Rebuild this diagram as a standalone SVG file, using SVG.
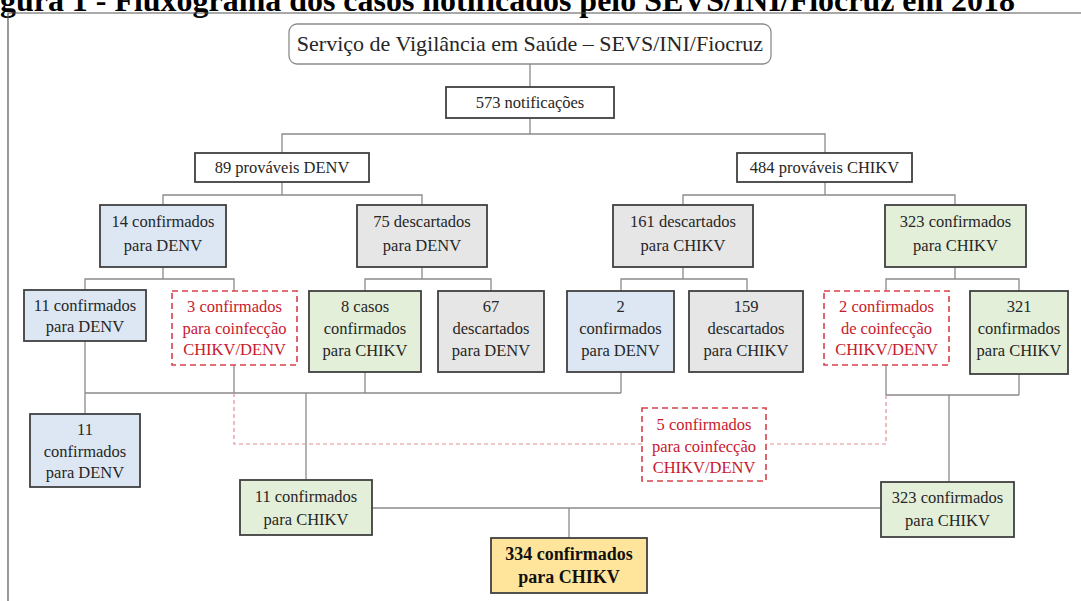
<svg xmlns="http://www.w3.org/2000/svg" width="1081" height="601" viewBox="0 0 1081 601">
<style>
text{font-family:"Liberation Serif","Times New Roman",serif;font-size:16.5px;fill:#262626;text-anchor:middle}
.title{font-weight:bold;font-size:31px;text-anchor:start;fill:#000}
.box{stroke:#404040;stroke-width:1.8}
.blue{fill:#dde7f3}
.gray{fill:#e6e6e6}
.green{fill:#e3efd9}
.white{fill:#fff}
.yellow{fill:#ffe59b}
.dash{fill:#fff;stroke:#d6404a;stroke-width:1.6;stroke-dasharray:6 4}
.red{fill:#c8192e}
.conn{fill:none;stroke:#8a8a8a;stroke-width:1.3}
.dconn{fill:none;stroke:#e38f95;stroke-width:1.2;stroke-dasharray:4 3}
.bold{font-weight:bold;font-size:18px;fill:#111}
</style>
<rect width="1081" height="601" fill="#fff"/>
<text class="title" x="0" y="11" textLength="1015" lengthAdjust="spacingAndGlyphs">gura 1 - Fluxograma dos casos notificados pelo SEVS/INI/Fiocruz em 2018</text>
<path d="M8,601 V13 H1081" fill="none" stroke="#555" stroke-width="1.2"/>

<g id="connectors">
<path class="conn" d="M530,64 V87"/>
<path class="conn" d="M530,118 V134 M282,153 V134 H825 V153"/>
<path class="conn" d="M282,182 V195 M163,205 V195 H422 V205"/>
<path class="conn" d="M825,182 V195 M683,205 V195 H955 V205"/>
<path class="conn" d="M163,267 V279 M85,290 V279 H234 V291"/>
<path class="conn" d="M422,267 V279 M365,291 V279 H491 V291"/>
<path class="conn" d="M683,267 V279 M621,291 V279 H747 V291"/>
<path class="conn" d="M955,267 V279 M886,291 V279 H1019 V291"/>
<path class="conn" d="M85,341 V414 M234,365 V393 M365,372 V393 M621,372 V393 M85,393 H621 M306,393 V480"/>
<path class="conn" d="M886,365 V395 M1019,374 V395 M886,395 H1019 M949,395 V482"/>
<path class="conn" d="M372,508 H881 M569,508 V538"/>
<path class="dconn" d="M234,393 V444 H642"/>
<path class="dconn" d="M886,395 V444 H766"/>
</g>

<g id="n-sevs">
<rect x="289" y="24" width="482" height="40" rx="8" fill="#fff" stroke="#8c8c8c" stroke-width="1.3"/>
<text x="530" y="51" style="font-size:22px">Serviço de Vigilância em Saúde – SEVS/INI/Fiocruz</text>
</g>
<g id="n-573">
<rect class="box white" x="446" y="87" width="168" height="31"/>
<text x="530" y="108">573 notificações</text>
</g>
<g id="n-89">
<rect class="box white" x="195" y="153" width="174" height="29"/>
<text x="282" y="173">89 prováveis DENV</text>
</g>
<g id="n-484">
<rect class="box white" x="737" y="153" width="175" height="29"/>
<text x="824.5" y="173">484 prováveis CHIKV</text>
</g>
<g id="n-14">
<rect class="box blue" x="100" y="205" width="126" height="62"/>
<text x="163" y="227">14 confirmados</text>
<text x="163" y="251">para DENV</text>
</g>
<g id="n-75">
<rect class="box gray" x="357" y="205" width="130" height="62"/>
<text x="422" y="227">75 descartados</text>
<text x="422" y="251">para DENV</text>
</g>
<g id="n-161">
<rect class="box gray" x="613" y="205" width="140" height="62"/>
<text x="683" y="227">161 descartados</text>
<text x="683" y="251">para CHIKV</text>
</g>
<g id="n-323a">
<rect class="box green" x="885" y="205" width="141" height="62"/>
<text x="955.5" y="227">323 confirmados</text>
<text x="955.5" y="251">para CHIKV</text>
</g>
<g id="n-11a">
<rect class="box blue" x="24" y="290" width="122" height="51"/>
<text x="85" y="311">11 confirmados</text>
<text x="85" y="332">para DENV</text>
</g>
<g id="n-3co">
<rect class="dash" x="172" y="291" width="125" height="74"/>
<text class="red" x="234.5" y="312">3 confirmados</text>
<text class="red" x="234.5" y="334">para coinfecção</text>
<text class="red" x="234.5" y="355">CHIKV/DENV</text>
</g>
<g id="n-8">
<rect class="box green" x="309" y="291" width="112" height="81"/>
<text x="365" y="312">8 casos</text>
<text x="365" y="334">confirmados</text>
<text x="365" y="356">para CHIKV</text>
</g>
<g id="n-67">
<rect class="box gray" x="438" y="291" width="106" height="81"/>
<text x="491" y="312">67</text>
<text x="491" y="334">descartados</text>
<text x="491" y="356">para DENV</text>
</g>
<g id="n-2d">
<rect class="box blue" x="567" y="291" width="107" height="81"/>
<text x="620.5" y="312">2</text>
<text x="620.5" y="334">confirmados</text>
<text x="620.5" y="356">para DENV</text>
</g>
<g id="n-159">
<rect class="box gray" x="689" y="291" width="114" height="81"/>
<text x="746" y="312">159</text>
<text x="746" y="334">descartados</text>
<text x="746" y="356">para CHIKV</text>
</g>
<g id="n-2co">
<rect class="dash" x="824" y="291" width="125" height="74"/>
<text class="red" x="886.5" y="312">2 confirmados</text>
<text class="red" x="886.5" y="334">de coinfecção</text>
<text class="red" x="886.5" y="355">CHIKV/DENV</text>
</g>
<g id="n-321">
<rect class="box green" x="970" y="291" width="98" height="83"/>
<text x="1019" y="312">321</text>
<text x="1019" y="334">confirmados</text>
<text x="1019" y="356">para CHIKV</text>
</g>
<g id="n-11b">
<rect class="box blue" x="30" y="414" width="110" height="73"/>
<text x="85" y="435">11</text>
<text x="85" y="457">confirmados</text>
<text x="85" y="478">para DENV</text>
</g>
<g id="n-5co">
<rect class="dash" x="642" y="408" width="124" height="73"/>
<text class="red" x="704" y="430">5 confirmados</text>
<text class="red" x="704" y="452">para coinfecção</text>
<text class="red" x="704" y="473">CHIKV/DENV</text>
</g>
<g id="n-11c">
<rect class="box green" x="240" y="480" width="132" height="55"/>
<text x="306" y="502">11 confirmados</text>
<text x="306" y="525">para CHIKV</text>
</g>
<g id="n-323b">
<rect class="box green" x="881" y="482" width="133" height="55"/>
<text x="947.5" y="503">323 confirmados</text>
<text x="947.5" y="526">para CHIKV</text>
</g>
<g id="n-334">
<rect class="box yellow" x="491" y="538" width="156" height="55"/>
<text class="bold" x="569" y="560">334 confirmados</text>
<text class="bold" x="569" y="583">para CHIKV</text>
</g>
</svg>
